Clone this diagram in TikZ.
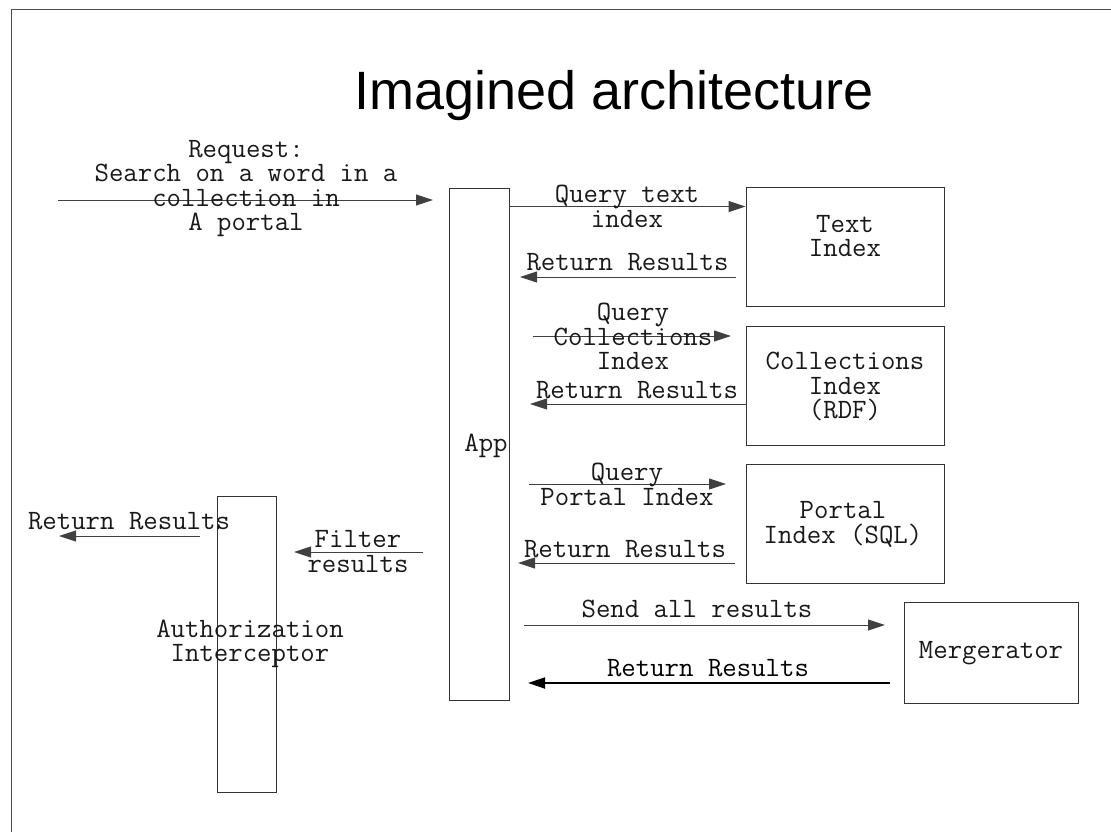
\documentclass[tikz,border=0pt]{standalone}
\usepackage{fontspec}
\newfontfamily\titlef{Liberation Sans}
\usetikzlibrary{arrows.meta}
\begin{document}
\begin{tikzpicture}[x=1pt,y=-1pt,
  lbl/.style={font=\ttfamily\fontsize{28}{24.5}\selectfont, align=center, inner sep=0pt, text=black!90},
  box/.style={draw=black!80, line width=0.9pt, inner sep=0pt},
  arr/.style={draw=black!75, line width=0.9pt, -{Triangle[length=17pt,width=11pt]}},
  thickarr/.style={arr, draw=black, line width=1.8pt}
]
\useasboundingbox (0,0) rectangle (1111,832);
\fill[white] (0,0) rectangle (1111,832);
% frame
\draw[black!70, line width=1.4pt] (11.5,832) -- (11.5,9.5) -- (1111,9.5);

% title
\node[font=\titlef\fontsize{54}{54}\selectfont, anchor=base, inner sep=0pt] (title) at (614,110) {Imagined architecture};

% boxes
\node[box, minimum width=60pt, minimum height=512pt] (app) at (479,444) {};
\node[box, minimum width=198pt, minimum height=119pt] (textidx) at (845,246.5) {};
\node[box, minimum width=198pt, minimum height=119pt] (colidx) at (845,385.5) {};
\node[box, minimum width=198pt, minimum height=119pt] (portidx) at (845,523.5) {};
\node[box, minimum width=174pt, minimum height=101pt] (merg) at (991,652.5) {};
\node[box, minimum width=59pt, minimum height=296pt] (auth) at (246.5,644) {};

% box texts
\node[lbl, anchor=base] (appl) at (486,451) {App};
\node[lbl] (textidxl) at (845,236) {Text\\Index};
\node[lbl] (colidxl) at (845,386.5) {Collections\\Index\\(RDF)};
\node[lbl] (portidxl) at (843,524.5) {Portal\\Index (SQL)};
\node[lbl, anchor=base] (mergl) at (991,658) {Mergerator};
\node[lbl] (authl) at (250,644) {Authorization\\Interceptor};

% free connector ends
\coordinate (reqs) at (58,200);
\coordinate (reqe) at (433,200);
\coordinate (r1s) at (736,277);
\coordinate (r1e) at (520,277);
\coordinate (qcs) at (533,336);
\coordinate (qce) at (731,336);
\coordinate (r2e) at (530,404);
\coordinate (qps) at (529,484);
\coordinate (qpe) at (726,484);
\coordinate (r3s) at (735,563);
\coordinate (r3e) at (518,563);
\coordinate (sas) at (524,625);
\coordinate (sae) at (885,625);
\coordinate (r4s) at (890,683);
\coordinate (r4e) at (528,683);
\coordinate (fs) at (423,552);
\coordinate (fe) at (294,552);
\coordinate (r5s) at (200,536);
\coordinate (r5e) at (59,536);

% connectors
\draw[arr] (reqs) -- (reqe);
\draw[arr] ([yshift=-19pt]app.north east) -- ([yshift=-20pt]textidx.north west);
\draw[arr] (r1s) -- (r1e);
\draw[arr] (qcs) -- (qce);
\draw[arr] (colidx.west |- r2e) -- (r2e);
\draw[arr] (qps) -- (qpe);
\draw[arr] (r3s) -- (r3e);
\draw[arr] (sas) -- (sae);
\draw[thickarr] (r4s) -- (r4e);
\draw[arr] (fs) -- (fe);
\draw[arr] (r5s) -- (r5e);

% connector labels
\node[lbl] (reql) at (246,188.5) {Request:\\Search on a word in a\\collection in\\A portal};
\node[lbl] (qtl) at (627,206.5) {Query text\\index};
\node[lbl, anchor=base] (r1l) at (627.5,270) {Return Results};
\node[lbl] (qcl) at (633,336.5) {Query\\Collections\\Index};
\node[lbl, anchor=base] (r2l) at (637,398) {Return Results};
\node[lbl] (qpl) at (627,484.5) {Query\\Portal Index};
\node[lbl, anchor=base] (r3l) at (625,557) {Return Results};
\node[lbl, anchor=base] (sal) at (697,617) {Send all results};
\node[lbl, anchor=base, text=black] (r4l) at (708,676) {Return Results};
\node[lbl] (fl) at (358,551.5) {Filter\\results};
\node[lbl, anchor=base] (r5l) at (129,529) {Return Results};
\end{tikzpicture}
\end{document}
